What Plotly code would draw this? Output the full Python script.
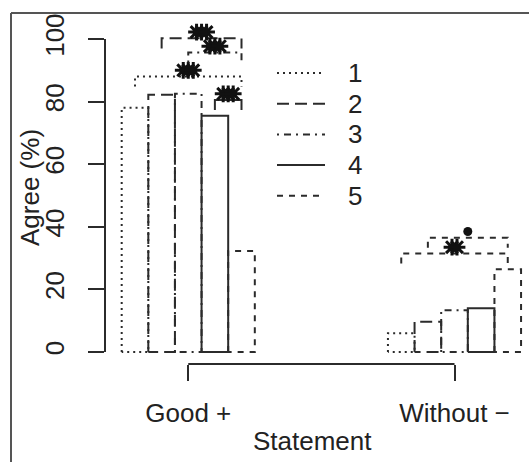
import plotly.graph_objects as go

# ---------------- data ----------------
categories = ["Good +", "Without \u2212"]
series_names = ["1", "2", "3", "4", "5"]
agree_good = [78.0, 82.2, 82.5, 75.5, 32.3]
agree_without = [6.0, 9.7, 13.3, 14.0, 26.4]
y_ticks = [0, 20, 40, 60, 80, 100]

# significance comparisons
sig_cat = [0, 0, 0, 0, 1, 1]
sig_bar_a = [1, 2, 3, 4, 1, 2]
sig_bar_b = [5, 5, 5, 5, 5, 5]
sig_height = [88.0, 100.2, 95.7, 80.5, 31.5, 36.5]
sig_label = ["***", "***", "***", "***", "**", "."]

# ---------------- styles ----------------
INK = "#2b2b2b"
TXT = "#222222"
STAR = "#111111"
FONT = "Liberation Sans, Arial, Helvetica, sans-serif"
FS = 26
dashes = ["2px,4px", "12px,6px", "2px,5px,7px,5px", "solid", "6px,6px"]
sig_dash = [dashes[0], dashes[1], dashes[2], dashes[3], dashes[4], dashes[4]]
LW = 2.0
BAR_W = 0.1

W, H = 529, 462
ML, MR, MT, MB = 105, 0, 13, 98
plot_w = W - ML - MR
plot_h = H - MT - MB
PX_PER_X = 266.25
x_lo = 1 - (188.25 - ML) / PX_PER_X
x_hi = x_lo + plot_w / PX_PER_X
PX_PER_Y = 3.13
y_lo = (352 - (MT + plot_h)) / PX_PER_Y
y_hi = (352 - MT) / PX_PER_Y

def px_x(p):
    return (p - ML) / plot_w

def px_y(p):
    return (MT + plot_h - p) / plot_h

values = [agree_good, agree_without]
n_series = len(series_names)

def bar_center(cat, i):
    return (cat + 1) + (i - (n_series - 1) / 2) * BAR_W

fig = go.Figure()

# bars as outlined rectangles
for i, name in enumerate(series_names):
    xs, ys = [], []
    for c in range(len(categories)):
        h = values[c][i]
        xl = bar_center(c, i) - BAR_W / 2
        xr = xl + BAR_W
        xs += [xl, xl, xr, xr, xl, None]
        ys += [0, h, h, 0, 0, None]
    fig.add_trace(go.Scatter(x=xs, y=ys, mode="lines", name=name,
                             line=dict(color=INK, width=LW, dash=dashes[i]),
                             showlegend=False, hoverinfo="skip"))

# significance brackets
LEG = 3.2
for k in range(len(sig_cat)):
    xa = bar_center(sig_cat[k], sig_bar_a[k] - 1)
    xb = bar_center(sig_cat[k], sig_bar_b[k] - 1)
    h = sig_height[k]
    fig.add_trace(go.Scatter(x=[xa, xa, xb, xb], y=[h - LEG, h, h, h - LEG],
                             mode="lines", showlegend=False, hoverinfo="skip",
                             line=dict(color=INK, width=LW, dash=sig_dash[k])))
    xm = (xa + xb) / 2
    lab = sig_label[k]
    if lab == ".":
        fig.add_trace(go.Scatter(x=[xm], y=[h + 2], mode="markers", showlegend=False,
                                 hoverinfo="skip",
                                 marker=dict(symbol="circle", size=9, color=STAR)))
    else:
        n = len(lab)
        step = 5 / PX_PER_X
        xs = [xm + (j - (n - 1) / 2) * step for j in range(n)]
        fig.add_trace(go.Scatter(x=xs, y=[h + 2] * n, mode="markers", showlegend=False,
                                 hoverinfo="skip",
                                 marker=dict(symbol="asterisk-open", size=14, color=STAR,
                                             line=dict(color=STAR, width=3))))

shapes = []
# axis lines (R style, spanning first to last tick)
shapes.append(dict(type="line", xref="paper", yref="y", x0=0, x1=0,
                   y0=y_ticks[0], y1=y_ticks[-1], line=dict(color=INK, width=LW)))
shapes.append(dict(type="line", xref="x", yref="paper", x0=1, x1=len(categories),
                   y0=0, y1=0, line=dict(color=INK, width=LW)))
# figure border (top + left)
shapes.append(dict(type="line", xref="paper", yref="paper", x0=px_x(11), x1=px_x(W + 5),
                   y0=px_y(13), y1=px_y(13), line=dict(color="#555", width=2)))
shapes.append(dict(type="line", xref="paper", yref="paper", x0=px_x(11), x1=px_x(11),
                   y0=px_y(13), y1=px_y(H + 5), line=dict(color="#555", width=2)))

annotations = []
# legend
leg_y0 = 73
leg_dy = 30.7
for i, name in enumerate(series_names):
    yy = px_y(leg_y0 + i * leg_dy)
    shapes.append(dict(type="line", xref="paper", yref="paper",
                       x0=px_x(277), x1=px_x(325), y0=yy, y1=yy,
                       line=dict(color=INK, width=LW, dash=dashes[i])))
    annotations.append(dict(x=px_x(355), y=yy, xref="paper", yref="paper", text=name,
                            showarrow=False, xanchor="center", yanchor="middle",
                            font=dict(family=FONT, size=FS, color=TXT)))

# axis titles
annotations.append(dict(x=px_x(312), y=px_y(441), xref="paper", yref="paper",
                        text="Statement", showarrow=False, xanchor="center",
                        yanchor="middle", font=dict(family=FONT, size=FS, color=TXT)))
annotations.append(dict(x=px_x(30), y=px_y(188), xref="paper", yref="paper",
                        text="Agree (%)", showarrow=False, textangle=-90,
                        xanchor="center", yanchor="middle",
                        font=dict(family=FONT, size=FS, color=TXT)))

fig.update_layout(
    width=W, height=H, autosize=False,
    margin=dict(l=ML, r=MR, t=MT, b=MB, pad=0),
    paper_bgcolor="white", plot_bgcolor="white",
    showlegend=False,
    shapes=shapes, annotations=annotations,
    font=dict(family=FONT, size=FS, color=TXT),
    xaxis=dict(range=[x_lo, x_hi], tickvals=list(range(1, len(categories) + 1)),
               ticktext=categories, ticks="outside", ticklen=16, tickwidth=LW,
               tickcolor=INK, showline=False, showgrid=False, zeroline=False,
               tickfont=dict(family=FONT, size=FS, color=TXT), automargin=False,
               ticklabelstandoff=10, fixedrange=True),
    yaxis=dict(range=[y_lo, y_hi], tickvals=y_ticks, ticktext=[str(v) for v in y_ticks],
               ticks="outside", ticklen=16, tickwidth=LW, tickcolor=INK,
               tickangle=-90, showline=False, showgrid=False, zeroline=False,
               tickfont=dict(family=FONT, size=FS, color=TXT), automargin=False,
               ticklabelstandoff=14, fixedrange=True),
)

fig.write_html("out.html", config={"displayModeBar": False},
               post_script="document.body.style.margin='0';document.body.style.padding='0';")
